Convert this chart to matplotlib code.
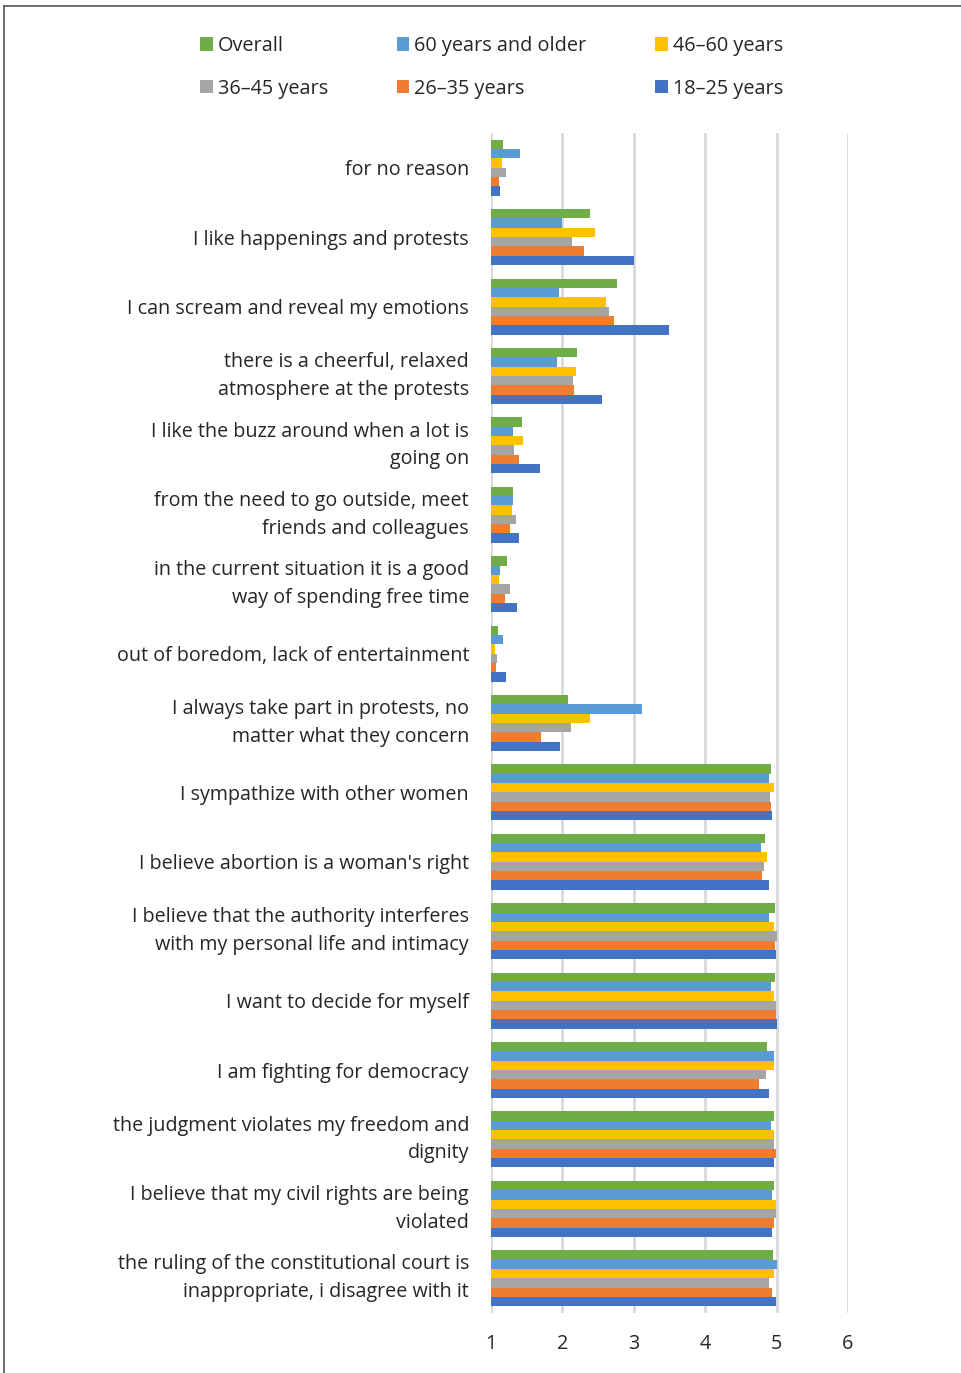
import matplotlib
matplotlib.use("Agg")
import matplotlib.pyplot as plt
from matplotlib.lines import Line2D
import numpy as np

plt.rcParams['font.family'] = ['Open Sans', 'DejaVu Sans']

categories = [
    "for no reason",
    "I like happenings and protests",
    "I can scream and reveal my emotions",
    "there is a cheerful, relaxed\natmosphere at the protests",
    "I like the buzz around when a lot is\ngoing on",
    "from the need to go outside, meet\nfriends and colleagues",
    "in the current situation it is a good\nway of spending free time",
    "out of boredom, lack of entertainment",
    "I always take part in protests, no\nmatter what they concern",
    "I sympathize with other women",
    "I believe abortion is a woman's right",
    "I believe that the authority interferes\nwith my personal life and intimacy",
    "I want to decide for myself",
    "I am fighting for democracy",
    "the judgment violates my freedom and\ndignity",
    "I believe that my civil rights are being\nviolated",
    "the ruling of the constitutional court is\ninappropriate, i disagree with it",
]

series_names = ["Overall", "60 years and older", "46\u201360 years",
                "36\u201345 years", "26\u201335 years", "18\u201325 years"]

overall  = [1.17, 2.39, 2.76, 2.21, 1.43, 1.31, 1.22, 1.10, 2.08, 4.92, 4.84, 4.98, 4.98, 4.86, 4.97, 4.97, 4.95]
older60  = [1.40, 2.00, 1.95, 1.93, 1.31, 1.31, 1.13, 1.17, 3.11, 4.89, 4.78, 4.89, 4.92, 4.96, 4.92, 4.94, 5.00]
age46_60 = [1.16, 2.46, 2.61, 2.19, 1.45, 1.29, 1.11, 1.06, 2.38, 4.96, 4.86, 4.96, 4.96, 4.97, 4.96, 4.99, 4.96]
age36_45 = [1.21, 2.14, 2.65, 2.15, 1.32, 1.35, 1.27, 1.08, 2.12, 4.91, 4.83, 5.00, 4.99, 4.85, 4.96, 4.99, 4.89]
age26_35 = [1.11, 2.30, 2.72, 2.16, 1.39, 1.26, 1.19, 1.07, 1.70, 4.92, 4.80, 4.98, 4.99, 4.75, 4.99, 4.97, 4.94]
age18_25 = [1.13, 3.00, 3.49, 2.55, 1.68, 1.39, 1.37, 1.21, 1.97, 4.94, 4.90, 4.99, 5.00, 4.89, 4.97, 4.94, 4.99]

series = [overall, older60, age46_60, age36_45, age26_35, age18_25]
colors = ["#70AD47", "#5B9BD5", "#FFC000", "#A5A5A5", "#ED7D31", "#4472C4"]

W, H = 962, 1373
fig = plt.figure(figsize=(W / 100, H / 100), dpi=100)
ax = fig.add_axes([491 / W, 1 - 1313 / H, (848 - 491) / W, (1313 - 133) / H])

n = len(categories)
y = np.arange(n)
h = 0.1345
handles = []
for j, (vals, c, name) in enumerate(zip(series, colors, series_names)):
    v = np.array(vals)
    b = ax.barh(y + (j - 2.5) * h, v - 1, left=1, height=h, color=c, label=name, zorder=3)
    handles.append(b)

ax.set_xlim(1, 6)
ax.set_ylim(n - 0.5, -0.5)
ax.set_xticks([1, 2, 3, 4, 5, 6])
ax.set_yticks(y)
ax.set_yticklabels(categories, fontsize=14.2, color="#262626", linespacing=1.51)
ax.tick_params(axis='both', length=0)
ax.tick_params(axis='y', pad=15.8)
ax.tick_params(axis='x', pad=15, labelsize=14.2, labelcolor="#262626")
for lab in ax.get_yticklabels():
    lab.set_horizontalalignment('right')
    if '\n' in lab.get_text():
        lab.set_verticalalignment('center')
ax.grid(axis='x', color="#D9D9D9", linewidth=2, zorder=0)
for s in ax.spines.values():
    s.set_visible(False)

order = [0, 3, 1, 4, 2, 5]
leg = fig.legend([handles[i] for i in order], [series_names[i] for i in order],
                 ncol=3, loc='upper left', bbox_to_anchor=(182 / W, 1 - 18 / H),
                 frameon=False, fontsize=14.3, handlelength=0.65, handleheight=0.65,
                 handletextpad=0.25, columnspacing=3.45, labelspacing=1.14,
                 labelcolor="#262626")

fig.add_artist(Line2D([4 / W, 4 / W], [0, 1 - 6 / H], transform=fig.transFigure, color="#555555", linewidth=1.2))
fig.add_artist(Line2D([4 / W, 1], [1 - 6 / H, 1 - 6 / H], transform=fig.transFigure, color="#555555", linewidth=1.2))

fig.savefig("out.png", dpi=100)
